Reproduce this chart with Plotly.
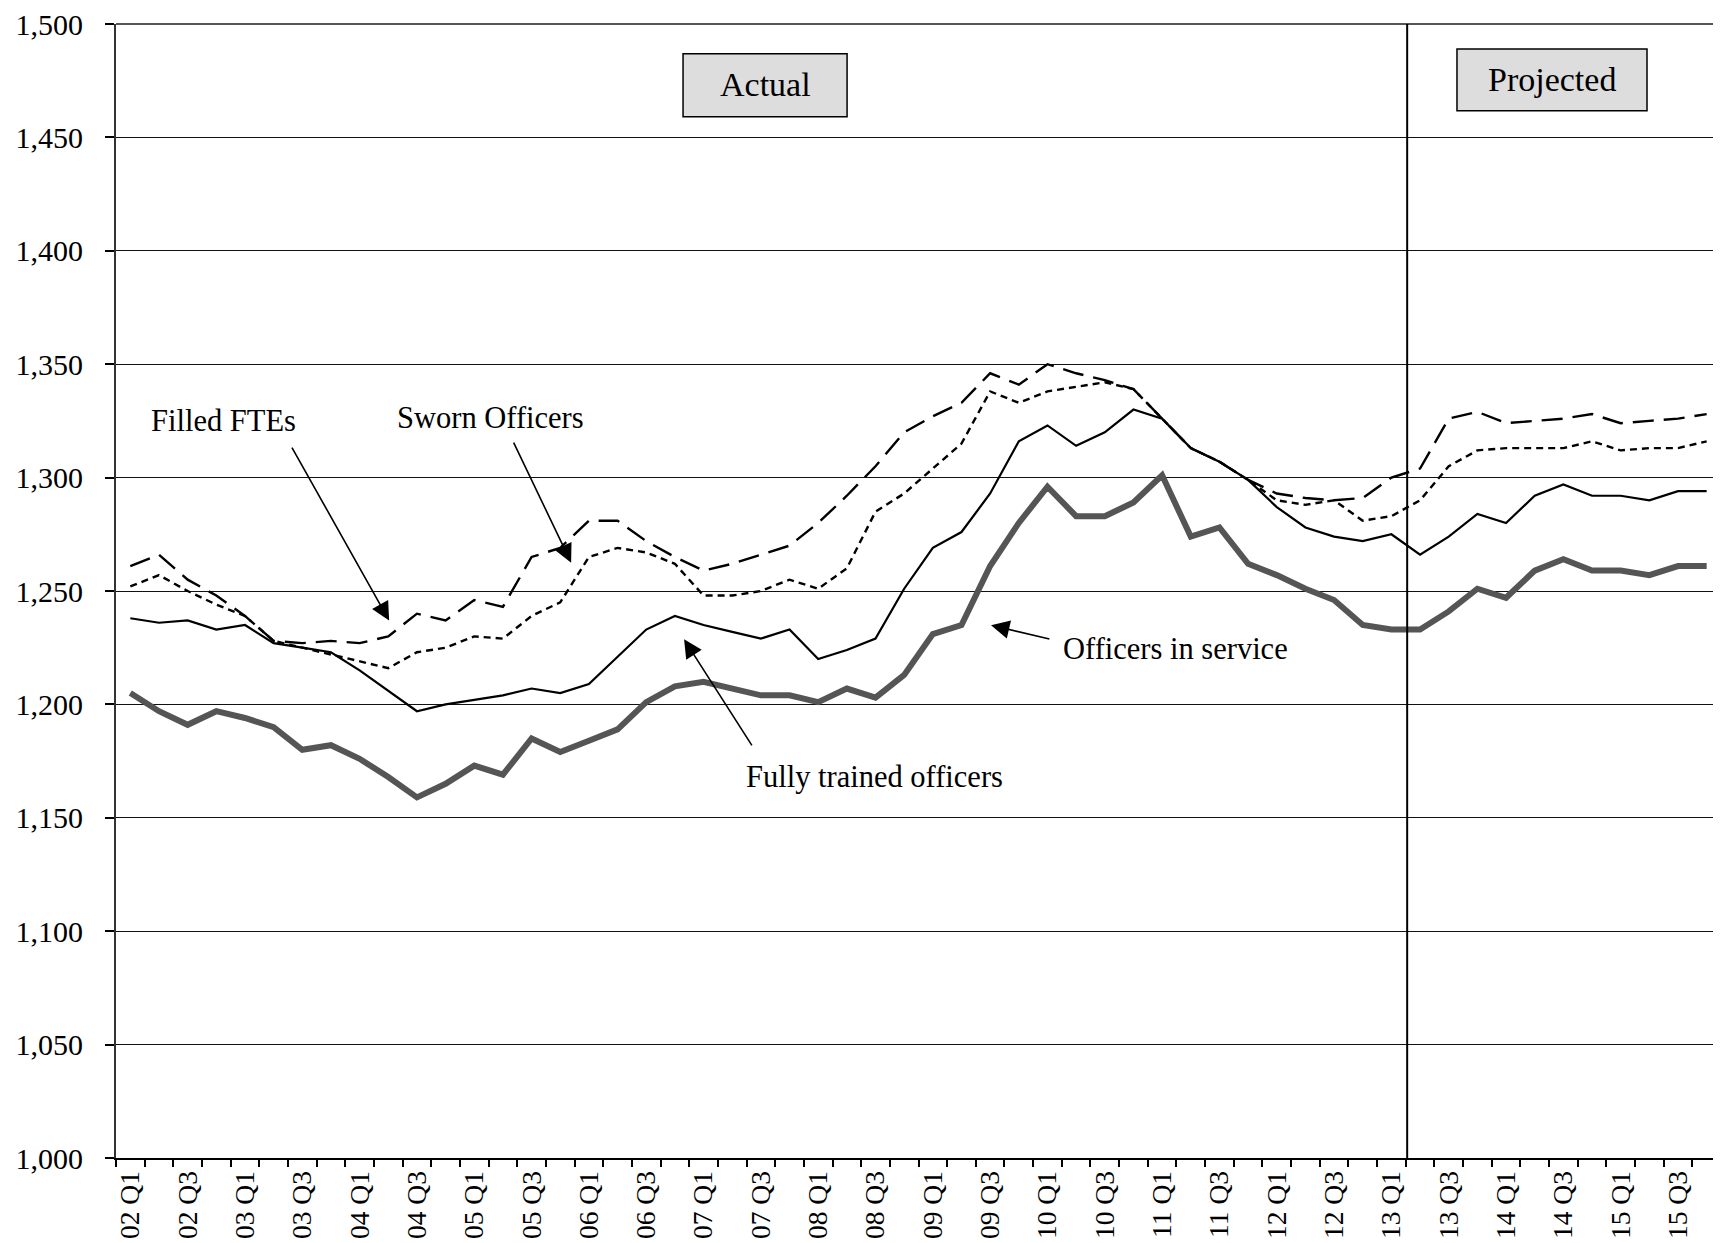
import plotly.graph_objects as go

quarters = [
    "02 Q1", "02 Q2", "02 Q3", "02 Q4", "03 Q1", "03 Q2", "03 Q3", "03 Q4",
    "04 Q1", "04 Q2", "04 Q3", "04 Q4", "05 Q1", "05 Q2", "05 Q3", "05 Q4",
    "06 Q1", "06 Q2", "06 Q3", "06 Q4", "07 Q1", "07 Q2", "07 Q3", "07 Q4",
    "08 Q1", "08 Q2", "08 Q3", "08 Q4", "09 Q1", "09 Q2", "09 Q3", "09 Q4",
    "10 Q1", "10 Q2", "10 Q3", "10 Q4", "11 Q1", "11 Q2", "11 Q3", "11 Q4",
    "12 Q1", "12 Q2", "12 Q3", "12 Q4", "13 Q1", "13 Q2", "13 Q3", "13 Q4",
    "14 Q1", "14 Q2", "14 Q3", "14 Q4", "15 Q1", "15 Q2", "15 Q3", "15 Q4",
]

tick_labels = [q if q.endswith(("Q1", "Q3")) else "" for q in quarters]

y_ticks = [1000, 1050, 1100, 1150, 1200, 1250, 1300, 1350, 1400, 1450, 1500]

filled_ftes = [
    1261, 1266, 1255, 1248, 1239, 1228, 1227, 1228, 1227, 1230,
    1240, 1237, 1246, 1243, 1265, 1269, 1281, 1281, 1272, 1265,
    1259, 1262, 1266, 1270, 1280, 1292, 1305, 1320, 1327, 1333,
    1346, 1341, 1350, 1346, 1343, 1339, 1326, 1313, 1307, 1299,
    1293, 1291, 1290, 1291, 1300, 1304, 1326, 1329, 1324, 1325,
    1326, 1328, 1324, 1325, 1326, 1328,
]

sworn_officers = [
    1252, 1257, 1250, 1244, 1239, 1228, 1225, 1222, 1219, 1216,
    1223, 1225, 1230, 1229, 1239, 1245, 1265, 1269, 1267, 1262,
    1248, 1248, 1250, 1255, 1251, 1260, 1285, 1293, 1304, 1315,
    1338, 1333, 1338, 1340, 1342, 1339, 1326, 1313, 1307, 1299,
    1290, 1288, 1290, 1281, 1283, 1290, 1305, 1312, 1313, 1313,
    1313, 1316, 1312, 1313, 1313, 1316,
]

fully_trained = [
    1238, 1236, 1237, 1233, 1235, 1227, 1225, 1223, 1215, 1206,
    1197, 1200, 1202, 1204, 1207, 1205, 1209, 1221, 1233, 1239,
    1235, 1232, 1229, 1233, 1220, 1224, 1229, 1251, 1269, 1276,
    1293, 1316, 1323, 1314, 1320, 1330, 1326, 1313, 1307, 1299,
    1287, 1278, 1274, 1272, 1275, 1266, 1274, 1284, 1280, 1292,
    1297, 1292, 1292, 1290, 1294, 1294,
]

officers_in_service = [
    1205, 1197, 1191, 1197, 1194, 1190, 1180, 1182, 1176, 1168,
    1159, 1165, 1173, 1169, 1185, 1179, 1184, 1189, 1201, 1208,
    1210, 1207, 1204, 1204, 1201, 1207, 1203, 1213, 1231, 1235,
    1261, 1280, 1296, 1283, 1283, 1289, 1301, 1274, 1278, 1262,
    1257, 1251, 1246, 1235, 1233, 1233, 1241, 1251, 1247, 1259,
    1264, 1259, 1259, 1257, 1261, 1261,
]

FONT = "Liberation Serif"

fig = go.Figure()
fig.add_trace(go.Scatter(x=quarters, y=officers_in_service, mode="lines",
                         line=dict(color="#555555", width=6), name="Officers in service"))
fig.add_trace(go.Scatter(x=quarters, y=fully_trained, mode="lines",
                         line=dict(color="black", width=2.2), name="Fully trained officers"))
fig.add_trace(go.Scatter(x=quarters, y=sworn_officers, mode="lines",
                         line=dict(color="black", width=2.4, dash="7px,5px"), name="Sworn Officers"))
fig.add_trace(go.Scatter(x=quarters, y=filled_ftes, mode="lines",
                         line=dict(color="black", width=2.4, dash="21px,10px"), name="Filled FTEs"))

# top frame line of the plot area
fig.add_shape(type="line", xref="paper", yref="paper", x0=0, x1=1, y0=1, y1=1,
              line=dict(color="#555555", width=2))

# projection divider
fig.add_shape(type="line", xref="x", yref="paper", x0=44.55, x1=44.55, y0=0, y1=1,
              line=dict(color="black", width=2))

# header boxes
fig.add_shape(type="rect", xref="paper", yref="paper", x0=0.3533, x1=0.4555, y0=0.9183, y1=0.9737,
              line=dict(color="black", width=1.5), fillcolor="#dddddd", layer="above")
fig.add_shape(type="rect", xref="paper", yref="paper", x0=0.8355, x1=0.9539, y0=0.9236, y1=0.978,
              line=dict(color="black", width=1.5), fillcolor="#dddddd", layer="above")

annotations = [
    dict(text="Actual", xref="paper", yref="paper", x=0.4044, y=0.9464, showarrow=False,
         font=dict(size=34, family=FONT, color="black"), xanchor="center", yanchor="middle"),
    dict(text="Projected", xref="paper", yref="paper", x=0.8947, y=0.9508, showarrow=False,
         font=dict(size=34, family=FONT, color="black"), xanchor="center", yanchor="middle"),
    dict(text="Filled FTEs", xref="x", yref="y", x=3.24, y=1324.8, showarrow=False,
         font=dict(size=30.5, family=FONT, color="black")),
    dict(text="Sworn Officers", xref="x", yref="y", x=12.55, y=1326.2, showarrow=False,
         font=dict(size=30.5, family=FONT, color="black")),
    dict(text="Fully trained officers", xref="x", yref="y", x=25.98, y=1168.1, showarrow=False,
         font=dict(size=30.5, family=FONT, color="black")),
    dict(text="Officers in service", xref="x", yref="y", x=36.48, y=1224.3, showarrow=False,
         font=dict(size=30.5, family=FONT, color="black")),
]

arrows = [
    ((9.03, 1237.0), (5.61, 1313.9)),
    ((15.38, 1262.5), (13.35, 1316.1)),
    ((19.32, 1228.7), (21.72, 1181.3)),
    ((30.03, 1234.9), (32.12, 1228.7)),
]
for (hx, hy), (tx, ty) in arrows:
    annotations.append(dict(text="", xref="x", yref="y", x=hx, y=hy, axref="x", ayref="y",
                            ax=tx, ay=ty, showarrow=True, arrowhead=2, arrowsize=2.3,
                            arrowwidth=1.6, arrowcolor="black", standoff=0, startstandoff=0))

fig.update_layout(
    width=1713, height=1235,
    margin=dict(l=108, r=0, t=16, b=85),
    paper_bgcolor="white", plot_bgcolor="white",
    showlegend=False,
    font=dict(family=FONT, color="black"),
    annotations=annotations,
)

fig.update_xaxes(
    type="category", categoryorder="array", categoryarray=quarters,
    tickmode="array", tickvals=quarters, ticktext=tick_labels,
    tickangle=-90, tickson="boundaries", ticks="outside", ticklen=7,
    tickcolor="black", tickwidth=1.5, automargin=False,
    showgrid=False, showline=True, linecolor="black", linewidth=2,
    tickfont=dict(size=27.5, family=FONT, color="black"),
    range=[-0.5, 55.5], zeroline=False,
)
fig.update_yaxes(
    range=[1000, 1500], tickmode="array", tickvals=y_ticks, tickformat=",",
    ticklabeloverflow="allow", automargin=False,
    showgrid=True, gridcolor="#111111", gridwidth=1.3,
    showline=True, linecolor="#333333", linewidth=2,
    ticks="outside", ticklen=9, tickcolor="black", tickwidth=1.5,
    ticklabelstandoff=16,
    tickfont=dict(size=30, family=FONT, color="black"),
    zeroline=False,
)

fig.write_html("out.html")
